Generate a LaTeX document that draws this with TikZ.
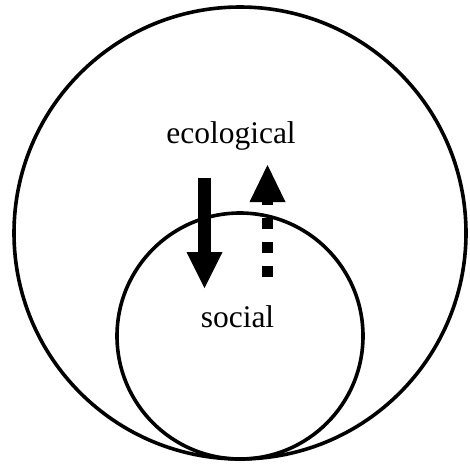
\documentclass[tikz,border=0pt]{standalone}
\usepackage{fontspec}
\setmainfont{Liberation Serif}
\usetikzlibrary{arrows.meta}

\tikzset{
  ring/.style={draw=black, circle, line width=3.6pt, inner sep=0pt},
  label text/.style={anchor=base, font=\fontsize{31.5}{38}\selectfont},
  fat arrow/.style={-{Triangle[length=#1, width=36pt, line width=0pt]}}
}

\begin{document}
\begin{tikzpicture}[x=1pt, y=-1pt]
		\useasboundingbox (0,0) rectangle (470,464);
		
		% Nested circles
		\node[ring, minimum size=452pt] (eco) at (240,233) {};
		\node[ring, minimum size=246pt] (soc) at (240,336) {};
		
		% Labels
		\node[label text] (ecotext) at (231,143) {ecological};
		\node[label text] (soctext) at (237.5,327) {social};
		
		% Arrow ends
		\coordinate (down start) at (204.5,178);
		\coordinate (down end) at (204.5,288);
		\coordinate (up start) at (267.5,277);
		\coordinate (up end) at (267.5,165);
		
		% Solid arrow down, dotted arrow up
		\draw[fat arrow=36pt, line width=13pt] (down start) -- (down end);
		\draw[fat arrow=37pt, line width=11pt, dash pattern=on 11pt off 13pt] (up start) -- (up end);
		
\end{tikzpicture}
\end{document}
